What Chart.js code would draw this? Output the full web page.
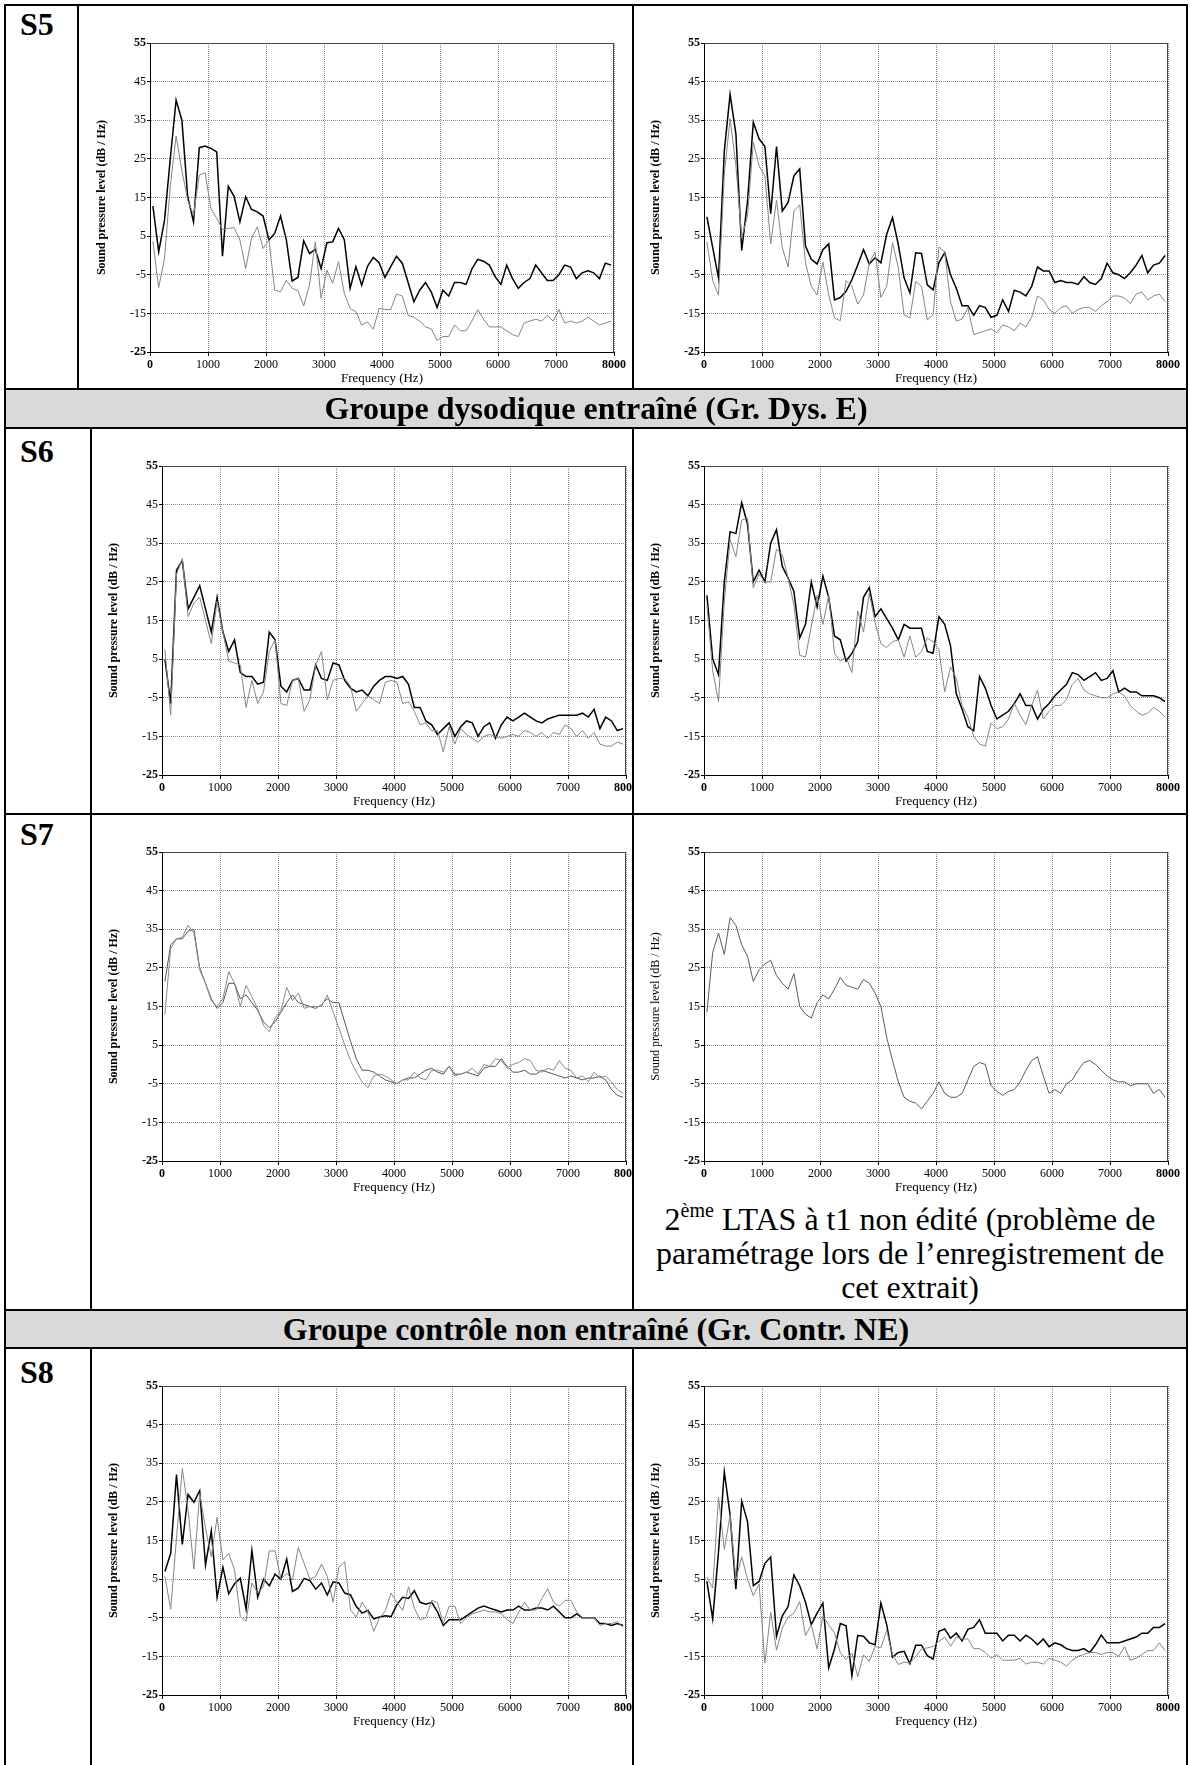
<!DOCTYPE html>
<html>
<head>
<meta charset="utf-8">
<script src="https://cdn.jsdelivr.net/npm/chart.js@4.4.1/dist/chart.umd.min.js"></script>
<style>
  html, body { margin: 0; padding: 0; background: #fff; }
  #page { position: relative; width: 1190px; height: 1765px; overflow: hidden;
          font-family: "Liberation Serif", "Times New Roman", serif; color: #000; }
  .ln { position: absolute; background: #000; z-index: 5; }
  .band { position: absolute; background: #d9d9d9; }
  .head { position: absolute; left: 6px; width: 1180px; text-align: center;
          font-weight: bold; font-size: 32px; z-index: 4; white-space: nowrap; }
  .sid { position: absolute; left: 20px; font-weight: bold; font-size: 32px; line-height: 32px; }
  .cell { position: absolute; overflow: hidden; }
  .cell canvas { position: absolute; left: 0; top: 0; }
  .note { position: absolute; left: 634px; width: 552px; text-align: center;
          font-size: 32px; line-height: 34px; }
  .note sup { font-size: 20px; line-height: 0; vertical-align: 13px; }
</style>
</head>
<body>
<div id="page">
  <!-- grey group bands -->
  <div class="band" style="left:6px;top:390px;width:1180px;height:37px;"></div>
  <div class="band" style="left:6px;top:1311px;width:1180px;height:36px;"></div>
  <div class="head" style="top:390px;line-height:37px;">Groupe dysodique entraîné (Gr. Dys. E)</div>
  <div class="head" style="top:1311px;line-height:36px;">Groupe contrôle non entraîné (Gr. Contr. NE)</div>

  <!-- subject labels -->
  <div class="sid" style="top:8px;">S5</div>
  <div class="sid" style="top:435px;">S6</div>
  <div class="sid" style="top:818px;">S7</div>
  <div class="sid" style="top:1356px;">S8</div>

  <div class="note" style="top:1202px;">2<sup>ème</sup> LTAS à t1 non édité (problème de<br>paramétrage lors de l’enregistrement de<br>cet extrait)</div>

  <!-- table rules -->
  <div class="ln" style="left:4px;top:4px;width:1184px;height:2px;"></div>
  <div class="ln" style="left:4px;top:4px;width:2px;height:1761px;"></div>
  <div class="ln" style="left:1186px;top:4px;width:2px;height:1761px;"></div>
  <div class="ln" style="left:4px;top:388px;width:1184px;height:2px;"></div>
  <div class="ln" style="left:4px;top:427px;width:1184px;height:2px;"></div>
  <div class="ln" style="left:4px;top:813px;width:1184px;height:2px;"></div>
  <div class="ln" style="left:4px;top:1309px;width:1184px;height:2px;"></div>
  <div class="ln" style="left:4px;top:1347px;width:1184px;height:2px;"></div>
  <div class="ln" style="left:77px;top:4px;width:2px;height:386px;"></div>
  <div class="ln" style="left:90px;top:427px;width:2px;height:884px;"></div>
  <div class="ln" style="left:90px;top:1347px;width:2px;height:418px;"></div>
  <div class="ln" style="left:632px;top:4px;width:2px;height:386px;"></div>
  <div class="ln" style="left:632px;top:427px;width:2px;height:884px;"></div>
  <div class="ln" style="left:632px;top:1347px;width:2px;height:418px;"></div>
</div>

<script>
// Frequency bins (Hz) of the long-term average spectra
const FREQ = [50,150,250,350,450,550,650,750,850,950,
  1050,1150,1250,1350,1450,1550,1650,1750,1850,1950,
  2050,2150,2250,2350,2450,2550,2650,2750,2850,2950,
  3050,3150,3250,3350,3450,3550,3650,3750,3850,3950,
  4050,4150,4250,4350,4450,4550,4650,4750,4850,4950,
  5050,5150,5250,5350,5450,5550,5650,5750,5850,5950,
  6050,6150,6250,6350,6450,6550,6650,6750,6850,6950,
  7050,7150,7250,7350,7450,7550,7650,7750,7850,7950];

const X_TICKS = [0,1000,2000,3000,4000,5000,6000,7000,8000];
const Y_TICKS = [-25,-15,-5,5,15,25,35,45,55];

// ---- S5 ----
const S5_L_DARK = [12.8,0.9,9.1,25.1,40.2,35,15.2,8.7,27.9,28.3,
  27.7,26.8,-0.2,17.9,15.3,8.7,15.2,11.9,11.3,10.2,
  4,5.7,10.2,4.1,-6.6,-5.7,3.8,0.5,1.6,-3.4,
  3.3,3.5,7,4.1,-8.5,-2.9,-7.7,-2.8,-0.5,-1.9,
  -5.7,-2.9,-0.2,-2,-7,-12,-9,-7,-9.5,-13.5,
  -9,-10.5,-7,-7,-7.5,-3.5,-1,-1.5,-2.5,-5.5,
  -7.5,-2.5,-6,-8.5,-7,-6,-2.5,-4.5,-6.5,-6.5,
  -5,-2.5,-3,-6,-4.5,-4,-4.5,-6,-2,-2.5];
const S5_L_LIGHT = [3.7,-8.3,-0.8,18,30.9,22,14.3,10.4,20.8,21.4,
  12.2,9.6,6.7,7,7.2,4,-3.4,4.4,7.4,1.8,
  4.1,-9,-9.4,-6.4,-8.5,-9.1,-13.1,-7.7,3.5,-11.1,
  -3.8,-7.2,-1.6,-9.8,-13.7,-14.6,-18,-17.2,-19.1,-13.7,
  -14,-14,-10,-10.5,-15.5,-16,-17,-18.5,-19,-22,
  -21,-21,-18,-19.5,-19.5,-17,-14,-16.5,-18.5,-18.5,
  -18.5,-19.5,-20.5,-21,-17.5,-17,-16.5,-17,-15.5,-17,
  -14,-17.5,-17,-17.5,-17,-16,-17,-18,-17.5,-17];
const S5_R_DARK = [10,2,-5.8,27,41.7,31.5,1.3,14,34.5,30.2,
  28.2,10.8,28.2,11.5,13.7,20.6,22.4,2.4,-1,-2.2,
  1.5,3,-11.5,-10.9,-9.3,-6.3,-2.5,1.5,-2.2,-0.6,
  -1.9,5.5,9.8,2.8,-5.8,-9.7,0.7,0.5,-7.6,-8.9,
  -1.9,0.7,-5,-8.5,-13,-13,-15.5,-13,-13.5,-16,
  -15.5,-11.5,-14.5,-9,-9.5,-10.5,-8,-3,-4,-4,
  -7,-6.5,-7,-7,-7.5,-5.5,-7,-7.5,-6,-2,
  -4.5,-5,-6,-4.5,-2.5,0,-4.5,-2.5,-2,0];
const S5_R_LIGHT = [3.5,-6.5,-10.3,21,35.4,23.2,4.6,10.2,29.3,23.2,
  20.6,3,14.3,2,-3,11.5,13.1,-1.9,-8,-10.2,
  -1.7,-10.2,-16.2,-16.9,-6.5,-8,-12.6,-10.3,-1.9,0.9,
  -10.9,-8,3.3,-3.2,-15.4,-16.2,-6.7,-8,-16.7,-15.4,
  2.2,0.9,-12,-17,-16.5,-13.5,-20.5,-20,-19.5,-19,
  -20,-18,-18.5,-19.5,-17.5,-18.5,-16,-10.5,-11.5,-14,
  -15,-13.5,-13,-15,-14,-13.5,-13.5,-14.5,-13,-12,
  -10.5,-10.5,-11,-12.5,-10,-9.5,-11.5,-10.5,-10,-12];

// ---- S6 ----
const S6_L_DARK = [5,-6.5,28,30.5,18,21,24,18,12,21,
  12,7,10,1.5,0.5,0.5,-1.5,-1,12,10,
  -2,-3.5,-0.5,0,-3,-3,3.5,0,-0.5,4,
  3.5,-0.5,-2.5,-3.5,-3,-4.5,-2,-0.5,0.5,0.5,
  0,0.5,-1.5,-7.5,-7.5,-11,-12,-14.5,-13,-11.5,
  -15,-12.5,-11,-11.5,-15,-12.5,-11.5,-15.5,-12,-10,
  -11,-10,-9,-10,-11,-11.5,-10.5,-10,-9.5,-9.5,
  -9.5,-9.5,-9,-10,-8,-13,-10,-11,-13.5,-13];
const S6_L_LIGHT = [7.5,-9.5,27,31,16,19.5,21,15,9,20,
  12,4.5,4,3.5,-7.5,-0.5,-6.5,-3.5,7,10,
  -6.5,-7,-0.5,0,-8.5,-5.5,3.5,7,-5.5,-0.5,
  0,0,-2,-8.5,-6.5,-4.5,-5.5,-6.5,-1,-0.5,
  -1,-6.5,-6,-8.5,-12,-11.5,-13.5,-13.5,-19,-12.5,
  -17,-13,-14.5,-15.5,-16.5,-15,-14.5,-15,-15.5,-15,
  -14.5,-15,-13.5,-14,-15,-14,-15.5,-14,-14.5,-12,
  -13,-15,-13.5,-15.5,-14,-17,-17.5,-17.5,-16.5,-17];
const S6_R_DARK = [21.5,5,1,25,38,37.5,45.5,40,25,28,
  25,35,38.5,29,26,22.5,10.5,14,25,18.5,
  26.5,21,11,10,4.5,6.5,9.5,21,23.5,16,
  18,15.5,13,10,14,13,13,13,7,6.5,
  16,14,8.5,-4,-8,-12.5,-13.5,0.5,-2.5,-7,
  -10.5,-9.5,-8.5,-6.5,-4,-7,-7,-10.5,-8,-6.5,
  -4.5,-3,-1.5,1.5,1,-0.5,0.5,1.5,-0.5,0,
  2,-3.5,-2.5,-3.5,-3.5,-4.5,-4.5,-4.5,-5,-6];
const S6_R_LIGHT = [19,2,-6,20,36,31.5,41,41.5,23.5,27,
  25,25,33.5,32,26,19,6,5.5,13.5,21.5,
  14,21.5,6.5,4.5,5.5,1.5,17.5,12,22,14.5,
  9,8,9.5,10,5.5,11,5.5,7,10.5,9.5,
  7.5,-3.5,3,0,-7,-10,-15,-17,-17.5,-11.5,
  -13,-12.5,-10.5,-6.5,-9.5,-12,-7,-3,-10.5,-8.5,
  -7,-7,-5.5,-1.5,0,-3,-4,-4.5,-5,-5,
  -4,-3.5,-4.5,-7,-8.5,-9.5,-9,-7.5,-8.5,-10];

// ---- S7 ----
const S7_L_A = [13,30,32.5,33,36,34,24.5,21,16.5,15,
  17,24,21,15,20.5,17.5,14.5,10,8.5,12,
  14,20,16.5,18.5,14.5,15,15,15,18,13.5,
  9.5,5,1,-2,-4.5,-6,-3,-2.5,-3,-4,
  -5,-4,-4,-2,-3.5,-4,-1.5,-1.5,-2,-0.5,
  -3,-2.5,-2,-1,-2.5,0,-0.5,1.5,1,-1,
  0,0.5,1.5,1,-1.5,-2,-1,-1.5,1,-1,
  -1.5,-3.5,-3,-4.5,-2,-3.5,-3,-4.5,-6.5,-7.5];
const S7_L_B = [21.5,31,32.5,32.5,34.5,35,25,21,17,14.5,
  16,21,21,17,18,16,14,11,9.5,11,
  13.5,16,18,16,15.5,15,14.5,15.5,17,16,
  16,11,6,1.5,-1.5,-1.5,-2,-3,-4,-4.5,
  -5,-4,-3.5,-3.5,-2.5,-1.5,-1,-2,-2.5,-0.5,
  -2.5,-2.5,-2,-2.5,-3,-1,-0.5,-0.5,1.5,-0.5,
  -2,-2,-1.5,-2.5,-2.5,-1.5,-2,-2.5,-3,-3.5,
  -3,-3.5,-4,-3.5,-3.5,-3,-4,-6.5,-8,-8.5];
const S7_R = [13.5,29,34,28.5,38,36,31,28,21.5,24.5,
  26,27,23,21,19.5,23.5,15,13,12,16,
  18,17,19.5,22.5,20.5,20,19.5,22,21,18.5,
  15,7,1,-4.5,-8.5,-9.5,-10,-11.5,-9.5,-7.5,
  -4.5,-7.5,-8.5,-8.5,-7.5,-4,-0.5,0.5,0,-5.5,
  -7,-8,-7,-6.5,-4.5,-1.5,1,2,-3,-7.5,
  -6.5,-7.5,-5,-4,-1.5,0.5,1,0,-1.5,-3,
  -4,-4.5,-4.5,-5.5,-5,-5,-5,-7.5,-6.5,-8.5];

// ---- S8 ----
const S8_L_DARK = [7,11.7,32.1,14,26.9,24.9,27.9,8.7,17.5,0.3,
  8.1,1.2,3.8,5.2,-2.8,12.4,0.3,5,3.3,6.3,
  5,10.2,1.8,2.7,5.2,4.6,2.4,4,0.9,4.3,
  4,1.4,0.9,-2.1,-3.8,-3.1,-5.3,-4.8,-4.5,-4.7,
  -1.6,0.3,0,2,-1,-1.5,-1,-3.5,-7,-5.5,
  -5.5,-5.5,-4.5,-3.5,-2.5,-2,-2.5,-3,-3.5,-3,
  -3,-2,-3,-3,-2.5,-2.5,-3,-2,-3.5,-5,
  -5,-4,-5,-5,-5,-6.5,-6.5,-7,-6.5,-7];
const S8_L_LIGHT = [5.7,-2.8,15.6,33.6,22.9,7.6,27.2,18.2,10.8,21,
  10,11.7,7.4,-4.7,-5.9,4,1.4,3.1,12.3,12.3,
  5,6.5,4.8,13.2,9.1,5,5.7,8.9,5.7,-1,
  8.1,9.5,-3,-4.8,-1,-3.4,-8.5,-5.1,-3.2,1.4,
  -1,-3.1,3,-2.5,-5.5,-5,-0.5,-1,-6.5,-2,
  -2,-6.5,-5,-4,-3.5,-3,-3.5,-3.5,-4,-5.5,
  -6.5,-3.5,-1,-3,-3,0,2.5,-1,-2,-0.5,
  -0.5,-3.5,-5,-5,-5,-7,-6.5,-6.5,-6,-7.5];
const S8_R_DARK = [4.4,-5.3,12,32.8,21.6,2.4,25.2,19.9,3.3,4.4,
  9.1,10.7,-9.8,-4.5,-2.1,6.1,3.3,-1,-6.8,-3.8,
  -1.2,-18,-13.1,-6.5,-7.1,-20,-9.6,-9.8,-11.5,-12,
  -1.2,-6.8,-15.2,-14,-13.7,-16.9,-12.1,-12.1,-14.8,-15.7,
  -8.5,-7.9,-10.3,-9,-11,-8,-7.5,-5.5,-9,-9,
  -9,-11,-9.5,-9.5,-11,-9.5,-10.5,-12,-10.5,-12.5,
  -11.5,-12,-13,-13.5,-13.5,-13,-14,-12,-9.5,-11.5,
  -11.5,-11.5,-11,-10.5,-10,-9,-9,-7.5,-7.5,-6.5];
const S8_R_LIGHT = [5.5,2.7,26.2,12.7,21.6,4.8,10.8,5,0.7,3.8,
  -16.7,-3.6,-13.4,-7.7,-4.8,-3.8,-0.8,-9.6,-6.8,-13.1,
  -4.5,-6.8,-9,-14,-15.8,-14.1,-20.3,-14.6,-16.3,-12.4,
  -12.8,-8.3,-14.6,-17.1,-16.5,-16.7,-15,-13.1,-12.8,-12.4,
  -11.1,-10,-12.4,-10,-10.5,-10.5,-13,-13,-14,-15.5,
  -14.5,-16,-16,-16,-15.5,-17,-16.5,-16.5,-17,-15.5,
  -16,-16.5,-17.5,-16,-15,-14.5,-14,-14,-14.5,-14,
  -14,-15,-12.5,-16,-15.5,-14.5,-13.5,-13.5,-11.5,-13.5];

const FONT = '"Liberation Serif", "Times New Roman", serif';
Chart.defaults.font.family = FONT;
Chart.defaults.color = '#000';

// thin frame along the top and right edges of each plot area
const plotFrame = {
  id: 'plotFrame',
  afterDraw(chart) {
    const {ctx, chartArea: a} = chart;
    ctx.save();
    ctx.lineWidth = 1;
    ctx.strokeStyle = '#444';
    ctx.beginPath();
    ctx.moveTo(Math.round(a.left) + 0.5, Math.round(a.top) + 0.5);
    ctx.lineTo(Math.round(a.right) - 0.5, Math.round(a.top) + 0.5);
    ctx.lineTo(Math.round(a.right) - 0.5, Math.round(a.bottom) + 0.5);
    ctx.stroke();
    ctx.restore();
  }
};

function series(values, color, width) {
  return {
    data: values.map((v, i) => ({x: FREQ[i], y: v})),
    borderColor: color,
    borderWidth: width,
    pointRadius: 0,
    tension: 0,
    fill: false
  };
}

const PAD = {left: 15, top: 12, right: 20, bottom: 8};
const Y_AXIS_W = 55, X_AXIS_H = 34;

function spectrum(plot, clipRight, datasets, boldTitle) {
  const page = document.getElementById('page');
  const w = (plot.r - plot.l) + PAD.left + Y_AXIS_W + PAD.right;
  const h = (plot.b - plot.t) + PAD.top + X_AXIS_H + PAD.bottom;
  const left = plot.l - PAD.left - Y_AXIS_W;
  const top = plot.t - PAD.top;
  const cell = document.createElement('div');
  cell.className = 'cell';
  cell.style.left = left + 'px';
  cell.style.top = top + 'px';
  cell.style.width = Math.min(w, clipRight - left) + 'px';
  cell.style.height = h + 'px';
  const cv = document.createElement('canvas');
  cv.width = w; cv.height = h;
  cv.style.width = w + 'px'; cv.style.height = h + 'px';
  cell.appendChild(cv);
  page.appendChild(cell);

  const endBold = (list) => (c) => ({
    family: FONT, size: 12,
    weight: (c.tick && (c.tick.value === list[0] || c.tick.value === list[list.length - 1])) ? 'bold' : 'normal'
  });

  new Chart(cv, {
    type: 'line',
    data: {datasets},
    options: {
      responsive: false,
      animation: false,
      devicePixelRatio: 1,
      layout: {padding: PAD},
      plugins: {legend: {display: false}, tooltip: {enabled: false}},
      scales: {
        x: {
          type: 'linear',
          min: X_TICKS[0], max: X_TICKS[X_TICKS.length - 1],
          afterBuildTicks: (s) => { s.ticks = X_TICKS.map(v => ({value: v})); },
          ticks: {autoSkip: false, maxRotation: 0, padding: 2, color: '#000',
                  font: endBold(X_TICKS), callback: (v) => String(v)},
          grid: {color: '#8c8c8c', lineWidth: 1, tickLength: 4, tickColor: '#000', tickBorderDash: []},
          border: {color: '#000', width: 1, dash: [1, 1]},
          title: {display: true, text: 'Frequency (Hz)', color: '#000',
                  font: {family: FONT, size: 13}, padding: 0},
          afterFit: (s) => { s.height = X_AXIS_H; s.paddingLeft = 0; s.paddingRight = 0; }
        },
        y: {
          min: Y_TICKS[0], max: Y_TICKS[Y_TICKS.length - 1],
          afterBuildTicks: (s) => { s.ticks = Y_TICKS.map(v => ({value: v})); },
          ticks: {autoSkip: false, padding: 1, color: '#000', font: endBold(Y_TICKS)},
          grid: {color: '#8c8c8c', lineWidth: 1, tickLength: 3, tickColor: '#000', tickBorderDash: []},
          border: {color: '#000', width: 1, dash: [1, 1]},
          title: {display: true, text: 'Sound pressure level (dB / Hz)', color: '#000',
                  font: {family: FONT, size: 12, weight: boldTitle ? 'bold' : 'normal'}, padding: 0},
          afterFit: (s) => { s.width = Y_AXIS_W; s.paddingTop = 0; s.paddingBottom = 0; }
        }
      }
    },
    plugins: [plotFrame]
  });
}

const DARK = '#000000', LIGHT = '#858585';

spectrum({l: 150, t: 43, r: 614, b: 352}, 632,
  [series(S5_L_LIGHT, LIGHT, 1), series(S5_L_DARK, DARK, 1.5)], true);
spectrum({l: 704, t: 43, r: 1168, b: 352}, 1188,
  [series(S5_R_LIGHT, LIGHT, 1), series(S5_R_DARK, DARK, 1.5)], true);

spectrum({l: 162, t: 466, r: 626, b: 775}, 632,
  [series(S6_L_LIGHT, LIGHT, 1), series(S6_L_DARK, DARK, 1.5)], true);
spectrum({l: 704, t: 466, r: 1168, b: 775}, 1188,
  [series(S6_R_LIGHT, LIGHT, 1), series(S6_R_DARK, DARK, 1.5)], true);

spectrum({l: 162, t: 852, r: 626, b: 1161}, 632,
  [series(S7_L_A, '#8a8a8a', 1), series(S7_L_B, '#555555', 1)], true);
spectrum({l: 704, t: 852, r: 1168, b: 1161}, 1188,
  [series(S7_R, '#5a5a5a', 1)], false);

spectrum({l: 162, t: 1386, r: 626, b: 1695}, 632,
  [series(S8_L_LIGHT, LIGHT, 1), series(S8_L_DARK, DARK, 1.5)], true);
spectrum({l: 704, t: 1386, r: 1168, b: 1695}, 1188,
  [series(S8_R_LIGHT, LIGHT, 1), series(S8_R_DARK, DARK, 1.5)], true);
</script>
</body>
</html>
